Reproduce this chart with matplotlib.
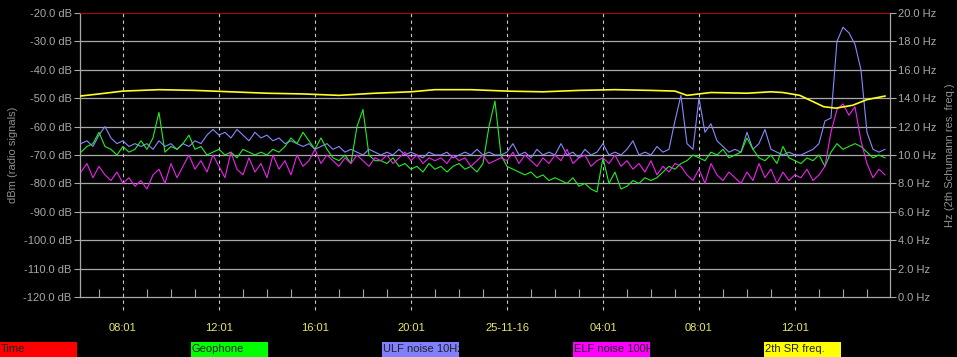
import numpy as np
import matplotlib
matplotlib.use("Agg")
import matplotlib.pyplot as plt
from matplotlib.patches import Rectangle

# ---------------- data ----------------
t_start = 6.25          # hours since 00:01 of day 1
t_step = 0.25

ulf = [-66, -65, -67, -63, -60, -64, -66, -65, -67, -66,
       -67, -66, -68, -65, -67, -66, -68, -66, -67, -65,
       -66, -63, -61, -63, -62, -64, -61, -63, -65, -62,
       -64, -63, -65, -64, -66, -65, -66, -67, -66, -68,
       -67, -66, -68, -67, -69, -68, -69, -70, -68, -69,
       -70, -69, -70, -68, -70, -69, -70, -71, -69, -70,
       -70, -69, -71, -70, -69, -70, -68, -70, -69, -70,
       -70, -69, -66, -70, -69, -71, -68, -70, -69, -70,
       -66, -70, -69, -71, -68, -70, -69, -66, -70, -69,
       -70, -68, -65, -70, -69, -70, -67, -69, -68, -58,
       -49, -66, -68, -50, -62, -59, -65, -67, -69, -68,
       -69, -62, -68, -66, -61, -68, -69, -70, -69, -70,
       -70, -69, -68, -66, -58, -57, -30, -25, -27, -31,
       -40, -62, -68, -69, -68]

geophone = [-69, -67, -66, -62, -67, -68, -70, -67, -69, -68,
            -65, -68, -64, -55, -69, -67, -68, -66, -63, -68,
            -67, -70, -69, -68, -70, -69, -71, -68, -69, -70,
            -69, -70, -68, -69, -67, -64, -66, -62, -65, -68,
            -64, -68, -71, -72, -70, -73, -60, -54, -70, -72,
            -72, -73, -71, -74, -73, -75, -74, -76, -73, -75,
            -74, -76, -74, -73, -75, -74, -76, -73, -60, -51,
            -70, -74, -75, -76, -77, -76, -78, -77, -79, -78,
            -79, -80, -78, -81, -80, -82, -83, -71, -80, -76,
            -82, -81, -79, -80, -78, -79, -78, -76, -74, -75,
            -73, -72, -70, -71, -72, -69, -70, -68, -71, -70,
            -69, -64, -68, -71, -72, -70, -73, -67, -71, -72,
            -73, -71, -72, -70, -74, -69, -66, -68, -67, -66,
            -67, -69, -71, -70, -71]

elf = [-76, -73, -78, -74, -77, -79, -76, -80, -78, -81,
       -79, -82, -77, -75, -80, -73, -78, -74, -70, -75,
       -72, -76, -70, -74, -78, -69, -75, -77, -71, -76,
       -73, -78, -70, -75, -72, -77, -70, -74, -72, -68,
       -73, -70, -72, -74, -71, -73, -70, -72, -74, -71,
       -72, -70, -73, -71, -69, -72, -70, -73, -71, -72,
       -71, -73, -70, -72, -71, -74, -72, -70, -73, -72,
       -71, -72, -69, -73, -70, -72, -74, -71, -73, -70,
       -72, -68, -73, -71, -70, -74, -72, -71, -73, -70,
       -74, -72, -75, -73, -76, -72, -77, -74, -76, -73,
       -74, -77, -79, -75, -80, -73, -77, -79, -76, -78,
       -80, -76, -79, -73, -78, -75, -80, -76, -79, -77,
       -78, -75, -79, -77, -74, -62, -54, -52, -56, -53,
       -65, -73, -78, -75, -77]

sr_hours = [6.21, 7.0, 8.0, 9.5, 11.0, 12.5, 14.0, 15.5, 17.0, 18.5,
            20.0, 21.0, 22.5, 24.0, 25.5, 27.0, 28.5, 30.0, 31.0, 31.5,
            32.5, 34.0, 35.0, 35.5, 36.2, 36.7, 37.2, 37.7, 38.4, 39.0, 39.75]
sr_freq = [14.15, 14.3, 14.5, 14.6, 14.55, 14.45, 14.35, 14.3, 14.2, 14.35,
           14.45, 14.6, 14.6, 14.5, 14.45, 14.55, 14.6, 14.55, 14.5, 14.2,
           14.4, 14.35, 14.45, 14.4, 14.2, 13.8, 13.4, 13.3, 13.5, 13.9, 14.15]

time_level = -20.0

major_hours = [8, 12, 16, 20, 24, 28, 32, 36]
major_labels = ["08:01", "12:01", "16:01", "20:01", "25-11-16", "04:01", "08:01", "12:01"]
db_ticks = [-120, -110, -100, -90, -80, -70, -60, -50, -40, -30, -20]
hz_ticks = [0, 2, 4, 6, 8, 10, 12, 14, 16, 18, 20]

legend_names = ["Time", "Geophone", "ULF noise 10Hz", "ELF noise 100H", "2th SR freq."]
legend_colors = ["#ff0000", "#00ff00", "#8080ff", "#ff00ff", "#ffff00"]

# ---------------- plot ----------------
W, H = 957, 357
fig = plt.figure(figsize=(W / 100, H / 100), dpi=100, facecolor="black")
font = "Liberation Sans"
plt.rcParams["font.family"] = [font, "DejaVu Sans"]

L, R, T, B = 80, 890, 13, 297
ax = fig.add_axes([L / W, (H - B) / H, (R - L) / W, (B - T) / H])
ax.set_facecolor("black")
x0 = 6.21
x1 = x0 + (R - L) / 24.0
ax.set_xlim(x0, x1)
ax.set_ylim(-120, -20)

grid_c = "#a8a8a8"
for v in db_ticks[1:-1]:
    ax.axhline(v, color=grid_c, lw=0.9, zorder=1)
for h in major_hours:
    ax.axvline(h, ymin=-0.045, ymax=1, color="#c8c8c8", lw=0.8,
               ls=(0, (3, 3)), clip_on=False, zorder=1)

n = len(ulf)
hours = [t_start + t_step * i for i in range(n)]

ax.plot(hours, ulf, color="#8888ff", lw=0.8, zorder=3)
ax.plot(hours, geophone, color="#22ee22", lw=0.8, zorder=4)
ax.plot(hours, elf, color="#ee22ee", lw=0.8, zorder=5)
ax.axhline(time_level, color="#dd0000", lw=1.2, zorder=6)

for s in ["left", "bottom"]:
    ax.spines[s].set_color(grid_c)
    ax.spines[s].set_linewidth(0.9)
ax.spines["top"].set_visible(False)
ax.spines["right"].set_color(grid_c)

ax.set_yticks(db_ticks)
ax.set_yticklabels([f"{v:.1f} dB" for v in db_ticks])
ax.tick_params(axis="y", colors=grid_c, labelsize=8, length=4, width=0.8, pad=2)
ax.set_xticks(major_hours)
ax.set_xticklabels(major_labels)
ax.tick_params(axis="x", colors="#e8e860", labelsize=8, length=0, pad=19)
for lab in ax.get_xticklabels():
    lab.set_color("#e8e860")
ax.set_xticks(np.arange(7, 40, 1), minor=True)
ax.tick_params(axis="x", which="minor", direction="in", length=6, width=0.8, color=grid_c)

ax.set_ylabel("dBm (radio signals)", color="#909090", fontsize=8, labelpad=4)

ax2 = ax.twinx()
ax2.set_ylim(0, 20)
ax2.plot(sr_hours, sr_freq, color="#ffff22", lw=1.2, zorder=7)
ax2.set_yticks(hz_ticks)
ax2.set_yticklabels([f"{v:.1f} Hz" for v in hz_ticks])
ax2.tick_params(axis="y", colors=grid_c, labelsize=8, length=4, width=0.8, pad=2)
for s in ["left", "bottom", "top"]:
    ax2.spines[s].set_visible(False)
ax2.spines["right"].set_color(grid_c)
ax2.set_ylabel("Hz (2th Schumann res. freq.)", color="#909090", fontsize=8,
               rotation=90, labelpad=6)

# legend boxes along the bottom
for k, (name, col) in enumerate(zip(legend_names, legend_colors)):
    px = k * 191
    rect = Rectangle((px / W, 0), 77 / W, 15 / H, transform=fig.transFigure,
                     facecolor=col, edgecolor="none")
    fig.patches.append(rect)
    txt = fig.text((px + 1) / W, 7.5 / H, name, color="#202020", fontsize=8,
                   va="center", ha="left")
    txt.set_clip_path(rect)

fig.savefig("out.png", dpi=100, facecolor="black")
